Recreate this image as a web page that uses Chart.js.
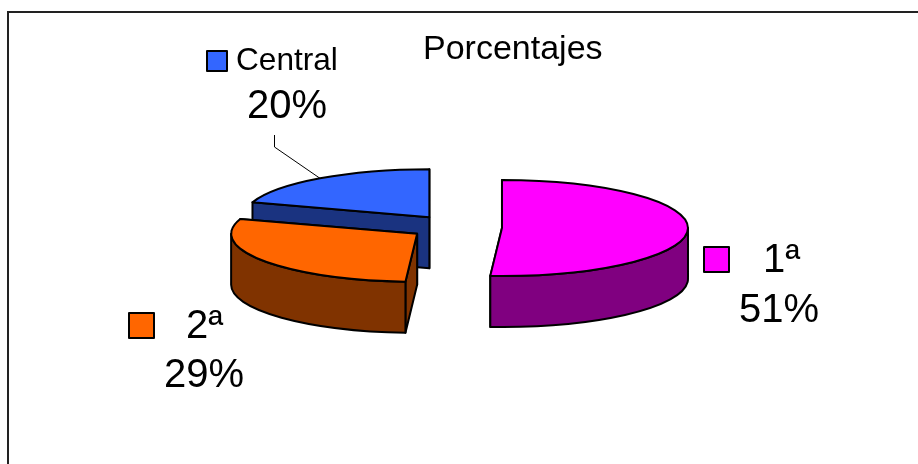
<!DOCTYPE html>
<html>
<head>
	<meta charset="utf-8">
	<title>Porcentajes</title>
	<script src="https://cdn.jsdelivr.net/npm/chart.js"></script>
	<style>
		html, body {
			margin: 0;
			padding: 0;
			background: #fff;
		}

		.chart {
			position: relative;
			width: 918px;
			height: 464px;
		}
	</style>
</head>

<body>
	<div class="chart">
		<canvas id="myChart"></canvas>
	</div>

	<script>
		const chartTitle = 'Porcentajes';
		const categories = [ '1ª', '2ª', 'Central' ];
		const values = [ 51, 29, 20 ];
		const faceColors = [ '#FF00FF', '#FF6600', '#3366FF' ];
		const sideColors = [ '#800080', '#803300', '#1A3380' ];

		const FONT = '"Liberation Sans", Arial, sans-serif';
		const RADIUS = 186;
		const TILT = 48 / 186;    // squash of the pie into an ellipse
		const DEPTH = 51;         // height of the extruded walls
		const EXPLODE = 47;       // how far each slice moves out from the centre
		const EDGE = 2;

		// small per slice correction on top of the explode distance
		const sliceNudge = [ [ 0, -0.4 ], [ 1, -1 ], [ 2, -1 ] ];

		// where each category's key, name and percentage go
		const labelPlaces = [
			{ key: [ 704, 247, 25 ], name: [ 763, 272, 40 ], pct: [ 739, 322, 40 ] },
			{ key: [ 129, 313, 25 ], name: [ 186, 338, 40 ], pct: [ 164, 387, 40 ] },
			{ key: [ 207, 51, 20 ], name: [ 236, 70, 31.6 ], pct: [ 247, 118, 40 ] }
		];

		function shape( ctx, fill, width ) {
			ctx.fillStyle = fill;
			ctx.fill();
			ctx.lineWidth = width;
			ctx.lineJoin = 'round';
			ctx.strokeStyle = '#000';
			ctx.stroke();
		}

		// centre of a slice once it has been pulled out of the pie
		function sliceCentre( arc, i ) {
			var mid = ( arc.startAngle + arc.endAngle ) / 2;

			return {
				x: arc.x + Math.cos( mid ) * EXPLODE + sliceNudge[ i ][ 0 ],
				y: arc.y + Math.sin( mid ) * EXPLODE * TILT + sliceNudge[ i ][ 1 ]
			};
		}

		function rimPoint( c, r, angle ) {
			return {
				x: c.x + Math.cos( angle ) * r,
				y: c.y + Math.sin( angle ) * r * TILT
			};
		}

		function drawCut( ctx, c, r, angle, color ) {
			var p = rimPoint( c, r, angle );

			ctx.beginPath();
			ctx.moveTo( c.x, c.y );
			ctx.lineTo( p.x, p.y );
			ctx.lineTo( p.x, p.y + DEPTH );
			ctx.lineTo( c.x, c.y + DEPTH );
			ctx.closePath();
			shape( ctx, color, EDGE );
		}

		function drawSlice( ctx, arc, i ) {
			var c = sliceCentre( arc, i );
			var r = arc.outerRadius;
			var ry = r * TILT;

			// end cut goes first, the start cut is the one that faces the viewer
			drawCut( ctx, c, r, arc.endAngle, sideColors[ i ] );
			drawCut( ctx, c, r, arc.startAngle, sideColors[ i ] );

			// only the front half of the rim can be seen
			var from = Math.max( arc.startAngle, 0 );
			var to = Math.min( arc.endAngle, Math.PI );

			if( from < to ) {
				ctx.beginPath();
				ctx.ellipse( c.x, c.y, r, ry, 0, from, to );
				ctx.ellipse( c.x, c.y + DEPTH, r, ry, 0, to, from, true );
				ctx.closePath();
				shape( ctx, sideColors[ i ], EDGE );
			}

			ctx.beginPath();
			ctx.moveTo( c.x, c.y );
			ctx.ellipse( c.x, c.y, r, ry, 0, arc.startAngle, arc.endAngle );
			ctx.closePath();
			shape( ctx, faceColors[ i ], EDGE );
		}

		function drawLabels( ctx, arcs ) {
			ctx.textAlign = 'left';
			ctx.textBaseline = 'alphabetic';

			categories.forEach( function( name, i ) {
				var place = labelPlaces[ i ];

				ctx.beginPath();
				ctx.rect( place.key[ 0 ], place.key[ 1 ], place.key[ 2 ], place.key[ 2 ] );
				shape( ctx, faceColors[ i ], EDGE );

				ctx.fillStyle = '#000';
				ctx.font = place.name[ 2 ] + 'px ' + FONT;
				ctx.fillText( name, place.name[ 0 ], place.name[ 1 ] );
				ctx.font = place.pct[ 2 ] + 'px ' + FONT;
				ctx.fillText( values[ i ] + '%', place.pct[ 0 ], place.pct[ 1 ] );
			});

			ctx.font = '34px ' + FONT;
			ctx.fillText( chartTitle, 423, 59 );

			// leader from the Central label down to the middle of its rim
			var last = arcs[ 2 ];
			var end = rimPoint( sliceCentre( last, 2 ), last.outerRadius, ( last.startAngle + last.endAngle ) / 2 );

			ctx.beginPath();
			ctx.moveTo( 274.5, 135 );
			ctx.lineTo( 274.5, 147 );
			ctx.lineTo( end.x, end.y );
			ctx.lineWidth = 1;
			ctx.strokeStyle = '#000';
			ctx.stroke();
		}

		const pie3d = {
			id: 'pie3d',
			beforeDraw: function( chart ) {
				var ctx = chart.ctx;

				// the frame is open on the right and at the bottom
				ctx.save();
				ctx.beginPath();
				ctx.moveTo( 8, 464 );
				ctx.lineTo( 8, 12 );
				ctx.lineTo( 918, 12 );
				ctx.lineWidth = 2;
				ctx.strokeStyle = '#222';
				ctx.stroke();
				ctx.restore();
			},
			beforeDatasetDraw: function( chart, args ) {
				var ctx = chart.ctx;
				var arcs = args.meta.data;

				ctx.save();

				// back slice first so the nearer ones cover it
				for( var i = arcs.length - 1; i >= 0; i-- ) {
					drawSlice( ctx, arcs[ i ], i );
				}

				drawLabels( ctx, arcs );
				ctx.restore();

				return false;
			}
		};

		new Chart( document.getElementById( 'myChart' ), {
			type: 'pie',
			data: {
				labels: categories,
				datasets: [{
					data: values,
					backgroundColor: faceColors,
					borderColor: '#000',
					borderWidth: 2
				}]
			},
			options: {
				responsive: true,
				maintainAspectRatio: false,
				animation: false,
				radius: RADIUS,
				layout: {
					padding: { left: 269, right: 277, top: 42, bottom: 50 }
				},
				plugins: {
					legend: { display: false },
					title: { display: false },
					tooltip: { enabled: false }
				}
			},
			plugins: [ pie3d ]
		});
	</script>
</body>
</html>
